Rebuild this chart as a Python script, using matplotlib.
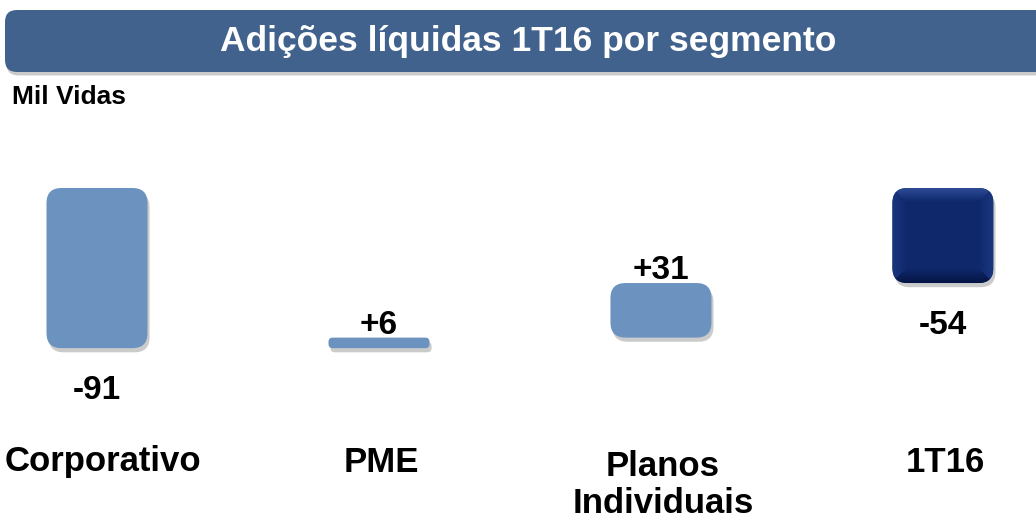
import numpy as np
import matplotlib
matplotlib.use("Agg")
import matplotlib.pyplot as plt
import matplotlib.patheffects as pe
from matplotlib.patches import FancyBboxPatch
import matplotlib.transforms as mtransforms

plt.rcParams['font.family'] = ['Liberation Sans', 'DejaVu Sans']

# data
categories = ['Corporativo', 'PME', 'Planos\nIndividuais', '1T16']
deltas = [-91, 6, 31]
total = -54
labels = ['-91', '+6', '+31', '-54']

light = '#6C93C0'
dark = '#12306E'
banner = '#41628D'

W, H = 1036, 521
fig = plt.figure(figsize=(W / 100, H / 100), dpi=100)
ax = fig.add_axes([0, 0, 1, 1])
ax.axis('off')

# axis scale: ~282 px per category, ~1.76 px per thousand lives
xlim = (-0.344, 3.33)
y0_px, s = 188, 1.76
ylim = (-(H - y0_px) / s, y0_px / s)
ax.set_xlim(*xlim)
ax.set_ylim(*ylim)
kx = (xlim[1] - xlim[0]) / W
ky = (ylim[1] - ylim[0]) / H
aspect = ky / kx
bar_w = 101 * kx

shadow = [pe.SimplePatchShadow(offset=(1.5, -3), shadow_rgbFace='#555555', alpha=0.3),
          pe.Normal()]


def rbar(x, bottom, top, color, r_px=15):
    h_px = (top - bottom) / ky
    r = min(r_px, h_px / 2.5) * kx
    p = FancyBboxPatch((x - bar_w / 2, bottom), bar_w, top - bottom,
                       boxstyle=f"round,pad=0,rounding_size={r}",
                       mutation_aspect=aspect, facecolor=color,
                       edgecolor='none', zorder=2)
    p.set_path_effects(shadow)
    ax.add_patch(p)
    return p


# waterfall bars
level = 0
bars = []
for i, d in enumerate(deltas):
    new = level + d
    lo, hi = min(level, new), max(level, new)
    rbar(i, lo, hi, light)
    bars.append((lo, hi, d))
    level = new

# total bar with bevel shading
i_tot = len(deltas)
lo, hi = min(0, total), max(0, total)
p = rbar(i_tot, lo, hi, dark)
bars.append((lo, hi, total))
ny, nx = int((hi - lo) / ky), 101
yy, xx = np.mgrid[0:ny, 0:nx]
dt, db, dl, dr = yy, ny - 1 - yy, xx, nx - 1 - xx
bev = 14
base = np.array([0.06, 0.16, 0.42])
img = np.tile(base, (ny, nx, 1))
dmin = np.minimum(np.minimum(dt, db), np.minimum(dl, dr))
zone = dmin < bev
f = np.clip(1 - dmin / bev, 0, 1)[..., None]
top_z = (dt == dmin) & zone
bot_z = (db == dmin) & zone & ~top_z
side_z = zone & ~top_z & ~bot_z
img[top_z] += (f[top_z] * np.array([0.12, 0.14, 0.18]))
img[bot_z] -= (f[bot_z] * np.array([0.04, 0.08, 0.15]))
img[side_z] += (f[side_z] * np.array([0.04, 0.05, 0.07]))
img = np.clip(img, 0, 1)
im = ax.imshow(img, extent=(i_tot - bar_w / 2, i_tot + bar_w / 2, lo, hi),
               origin='upper', aspect='auto', zorder=3)
im.set_clip_path(p)

# value labels
for i, ((lo, hi, d), lab) in enumerate(zip(bars, labels)):
    if d < 0:
        ax.annotate(lab, (i, lo), xytext=(0, -27), textcoords='offset pixels',
                    ha='center', va='top', fontsize=24, fontweight='bold', zorder=5)
    else:
        ax.annotate(lab, (i, hi), xytext=(0, 4), textcoords='offset pixels',
                    ha='center', va='baseline', fontsize=24, fontweight='bold', zorder=5)

# category labels
trans = mtransforms.blended_transform_factory(ax.transData, ax.transAxes)
for i, c in enumerate(categories):
    ypx = 485 if '\n' in c else 462
    dx = 6 if i == 0 else 2
    ax.annotate(c, (i, 1 - ypx / H), xycoords=trans, xytext=(dx, 0),
                textcoords='offset pixels', ha='center', va='center',
                fontsize=25, fontweight='bold', linespacing=1.15)

# title banner
bx0, bx1, by0, by1 = 5, W + 30, 10, 72
ban = FancyBboxPatch((bx0 / W, 1 - by1 / H), (bx1 - bx0) / W, (by1 - by0) / H,
                     boxstyle=f"round,pad=0,rounding_size={12 / W}",
                     mutation_aspect=W / H, transform=fig.transFigure,
                     facecolor=banner, edgecolor='none', zorder=1)
ban.set_path_effects([pe.SimplePatchShadow(offset=(1, -2.5), shadow_rgbFace='#555555', alpha=0.3),
                      pe.Normal()])
fig.patches.append(ban)
fig.text(528 / W, 1 - 42 / H, 'Adições líquidas 1T16 por segmento', color='white',
         ha='center', va='center', fontsize=25.5, fontweight='bold')
fig.text(12 / W, 1 - 97 / H, 'Mil Vidas', ha='left', va='center',
         fontsize=19, fontweight='bold')

fig.savefig('out.png', dpi=100)
